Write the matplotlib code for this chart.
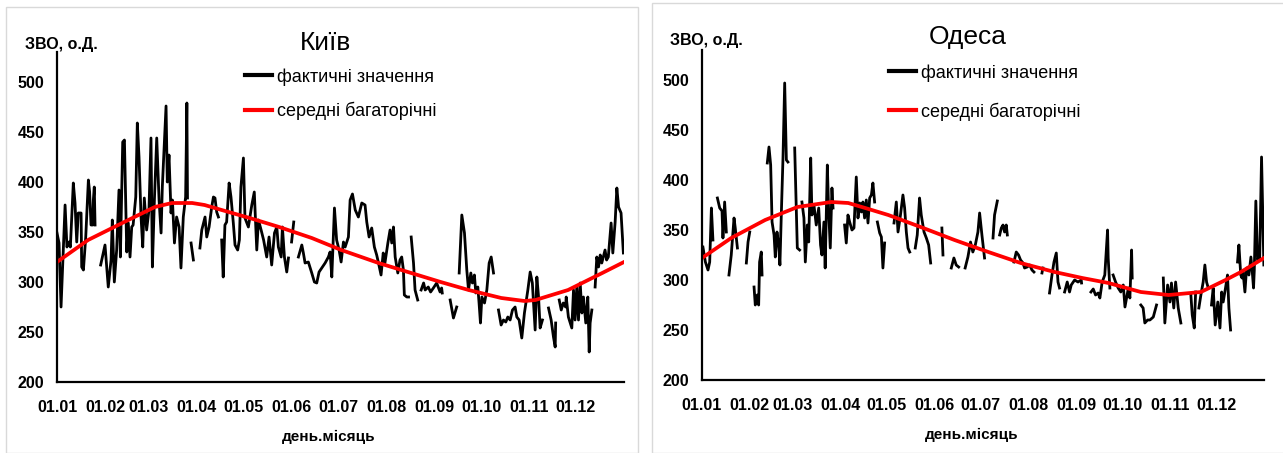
import numpy as np
import matplotlib.pyplot as plt
from matplotlib.patches import Rectangle

# month start positions (day of year) and their labels
month_days = [0, 31, 59, 90, 120, 151, 181, 212, 243, 273, 304, 334]
month_labels = ["01.01", "01.02", "01.03", "01.04", "01.05", "01.06",
                "01.07", "01.08", "01.09", "01.10", "01.11", "01.12"]
yticks = [200, 250, 300, 350, 400, 450, 500]

# Kyiv, actual daily values (None = missing data, breaks the line)
kyiv_days = [0, 1.3, 2.6, 5.2, 6.4, 7.7, 8.6, 10.5, 11.6, 12.7, 13.7, 15.5, 15.9, 17, 18.5, 20.2, 21, 21.9, 23, 23.4, 24, 24.5, None,
             28.1, 30.9, 33, 34.8, 35.6, 36.9, 38.4, 39.9, 40.8, 42.3, 43.4, 44.9, 45.9, 47, 48.1, 49, 50.7, 51.7, 52.8, 54.1, 55.2,
             56.2, 57.7, 59.2, 60.5, 61.4, 62.7, 64.2, 65.7, 67, 67.8, 70.2, 71, 72.1, 73.4, 74.3, 75.6, 77, 78.6, 79.8, 81.3, 82.8,
             83.6, 84, None,
             86.3, 87.8, None,
             92, 93.2, 95.3, 96.4, 97.9, 99.6, 100.7, 101.7, 102.8, 103.9, None,
             106, 107, 108.1, 109.2, 110.8, 112, 113.5, 114.6, 116.3, 117.4, 118.4, 120, 121, 123.2, 125.4, 127, 128.6, 129.7, 131.4,
             133, 135, 136.5, 138.2, 140, 141.5, 142.5, 144.3, 145.1, 146.4, 147.9, 149, None,
             151, 152.4, None,
             155.4, 157.6, 158.6, 159.7, 161.8, 164, 165.7, 167.2, 168.7, 170.4, 172.6, 174.7, 175.8, 176.9, 178.6, 180, 181.6, 182.9,
             184.4, 185.5, 187.6, 188.7, 190.2, 192, 194, 196.2, 198.3, 199.4, 200.9, 202.6, 204.3, 205.8, 207.1, 208.6, 210, 211.1,
             213, 214.4, 215.5, 216.6, 217.7, 219.4, 220.8, 221.9, 223, 223.6, 225.2, 226.3, None,
             228, 229.5, 230.5, 232.2, None,
             234.4, 236, 237, 239, 240.5, 242.3, 244.4, 246.6, 247.6, 248, None,
             253.1, 255.2, 257.3, None,
             258.9, 260.6, 262.3, 263.8, 264.9, 266.4, 267.4, 268.7, 269.6, 270.9, 271.7, 272.6, 273.5, 275.2, 276.7, 278.2, 279.5, 281, None,
             284.2, 285.9, 287.4, 288.9, 290.2, 291.7, 293.2, 294.9, 296, 297.5, 299.2, 300.9, 303.1, 304.6, 306, 307.8, 308.9, 310, 311, 312.5, None,
             316.4, 318.1, 319.6, 320.7, 321, None,
             323.3, 324.6, 325.9, 327.4, 327.8, 329.2, 331.4, 332.5, 333.5, 334.6, 335.7, 336.8, 337.9, 338.9, 340.4, 341.7, 342.6, 343.2, 344.3, None,
             346.4, 347.5, 348.6, 349.7, 350.7, 351.7, 352.8, 353.8, 354.9, 356.7, 357.8, 359.3, 360.4, 361.5, 363.1, 364.6]
kyiv_vals = [349, 339, 275, 377, 335, 340, 335, 399, 379, 340, 369, 369, 315, 312, 345, 402, 390, 357, 357, 382, 395, 357, None,
             317, 337, 295, 322, 362, 300, 332, 392, 325, 440, 442, 330, 359, 325, 355, 357, 385, 459, 425, 365, 335,
             384, 352, 372, 444, 315, 382, 444, 382, 349, 395, 476, 400, 427, 369, 382, 339, 365, 355, 314, 365, 385,
             479, 384, None,
             339, 322, None,
             334, 352, 365, 345, 355, 375, 385, 384, 370, 365, None,
             342, 305, 357, 360, 399, 385, 359, 337, 332, 342, 395, 424, 364, 355, 377, 390, 332, 362, 352,
             342, 325, 345, 317, 349, 355, 335, 325, 355, 325, 310, 324, None,
             340, 360, None,
             325, 337, 329, 319, 320, 309, 300, 299, 310, 314, 319, 325, 330, 305, 374, 342, 332, 320,
             340, 335, 345, 382, 388, 372, 365, 379, 377, 360, 345, 354, 335, 327, 318, 307, 329, 319,
             339, 352, 339, 355, 325, 309, 322, 325, 312, 287, 285, 285, None,
             345, 319, 292, 282, None,
             292, 299, 292, 295, 290, 294, 299, 290, 294, 289, None,
             282, 264, 275, None,
             309, 367, 349, 312, 292, 309, 299, 307, 289, 295, 279, 259, 285, 279, 292, 319, 325, 309, None,
             272, 257, 262, 260, 265, 262, 272, 275, 265, 262, 244, 269, 292, 310, 299, 252, 305, 285, 254, 262, None,
             274, 262, 245, 235, 259, None,
             282, 272, 279, 275, 285, 265, 254, 292, 262, 295, 262, 299, 269, 285, 259, 285, 230, 259, 272, None,
             295, 325, 315, 327, 319, 325, 332, 322, 325, 359, 329, 360, 394, 375, 369, 329]

# Kyiv, long-term mean
kyiv_mean_days = [0, 20, 42, 63, 74, 87, 95, 106, 124, 143, 164, 183, 207, 228, 247, 265, 286, 301, 308, 329, 351, 365]
kyiv_mean_vals = [320, 342, 359, 375, 379, 379, 377, 372, 364, 355, 344, 332, 319, 309, 300, 292, 284, 281, 282, 292, 309, 320]

# Odesa, actual daily values
odesa_days = [0.6, 2.2, 3.9, 5, 6.1, 7.1, None,
              10, 11.5, 13, 13.6, 14.7, 15.8, None,
              17.5, 19, 20.8, 21.6, 23, None,
              28.8, 29.9, 31, None,
              33.8, 34.6, 35.9, 36.8, 37.4, 38.5, 39, None,
              42.4, 43.5, 44.6, 45.5, 46.8, 47.6, 48.7, 49.8, 50.6, 51.5, 52.6, 53.7, 54.8, 55.8, None,
              60.2, 61.3, 61.9, 63.4, None,
              64.9, 66.2, 67.1, 68.4, 69.3, 70.6, 71.4, 72.7, 74.2, 75.8, 77, 77.9, 79.2, 80, 81.4, 82.2, 83.3, 84.4, 85.1, None,
              92.6, 93.7, 94.8, 95.9, 97.4, 98.7, 100.2, 101.3, 102.4, 103.5, 104.5, 105.6, 106.7, 107.8, 108.9, 110, 111, 112.1, None,
              113.9, 115.4, 116.5, 117.5, 118.6, None,
              124.7, 126.2, 127.3, 128.9, 130.5, 131.6, 132.7, 133.8, 134.9, None,
              138.5, 139.8, 141.3, 142.4, 144.2, 145.7, 147.2, 148.5, None,
              155.8, 156.5, None,
              161.9, 163.6, 165.1, 166.7, None,
              170.9, 172.7, 174.4, 175.9, 177.5, 179.2, 180.3, 181.8, 183.5, None,
              189, 190, 191.8, None,
              193.3, 194.4, 195.5, 196.5, 197.6, 198.3, None,
              202.6, 204.1, 205.6, 206.9, 208.5, 209.5, 211.2, 212.8, 214.3, 215.6, None,
              220.8, 221.4, None,
              225.7, 227.3, 228.6, 230.1, 231.2, 232.2, None,
              235.5, 237.2, 238.7, 239.8, 242, 244.2, 246.3, 246.5, None,
              252.6, 254.1, 255.6, 257.3, 258.4, 259.9, 261.6, 263.4, 263.8, 264.9, None,
              267, 268.6, 270.3, 272, 273.6, 274.7, 276.9, 277.9, 279, 279.4, None,
              285, 286.5, 287.6, 289.4, 290.9, 293.1, 295.2, None,
              299.6, 300.6, 302.4, 303.9, 304.9, 306.4, 307.6, 309.3, 311, None,
              317.5, 318.4, 319.7, 320.6, None,
              322.7, 324, 325.5, 326.6, 327.7, 328.8, None,
              330.9, 332, 333.3, 335, 336.4, 337.5, 338.5, 340, 341.3, 342.2, 343.3, None,
              347.8, 348.7, 349.9, 350.7, 351.4, 352.6, 353.7, 355.2, 356.5, 357.4, 358.2, 358.7, 359.7, 360.8, 362.2, 363.4, 364.9]
odesa_vals = [333, 318, 310, 318, 372, 340, None,
              382, 372, 369, 342, 378, 348, None,
              305, 325, 362, 352, 332, None,
              317, 338, 348, None,
              293, 275, 285, 275, 318, 328, 305, None,
              417, 433, 415, 358, 345, 323, 348, 335, 315, 365, 422, 497, 420, 418, None,
              432, 365, 332, 330, None,
              378, 362, 318, 355, 338, 422, 365, 375, 355, 372, 335, 325, 358, 312, 415, 372, 332, 392, 372, None,
              355, 337, 365, 358, 350, 352, 403, 362, 377, 368, 378, 362, 380, 357, 382, 385, 397, 378, None,
              358, 347, 343, 312, 337, None,
              357, 378, 348, 365, 385, 372, 348, 332, 328, None,
              332, 345, 382, 365, 348, 342, 335, 317, None,
              352, 325, None,
              312, 322, 315, 313, None,
              312, 323, 338, 328, 335, 348, 367, 345, 322, None,
              342, 365, 379, None,
              345, 352, 355, 348, 355, 345, None,
              318, 328, 325, 320, 317, 312, 313, 315, 310, 308, None,
              307, 312, None,
              287, 305, 318, 327, 298, 292, None,
              288, 298, 288, 295, 300, 298, 300, 297, None,
              288, 291, 285, 287, 282, 298, 305, 350, 322, 292, None,
              305, 298, 292, 288, 295, 273, 292, 282, 330, 302, None,
              275, 272, 257, 260, 260, 263, 275, None,
              302, 257, 295, 278, 297, 272, 298, 272, 257, None,
              285, 265, 252, 288, None,
              272, 285, 298, 315, 298, 292, None,
              275, 292, 255, 278, 252, 288, 278, 292, 305, 272, 250, None,
              318, 335, 305, 302, 308, 288, 312, 305, 323, 308, 292, 310, 379, 320, 322, 423, 315]

# Odesa, long-term mean
odesa_mean_days = [0, 19, 41, 62, 84, 95, 106, 121, 142, 164, 186, 207, 229, 247, 264, 285, 303, 324, 340, 350, 365]
odesa_mean_vals = [322, 342, 360, 373, 378, 377, 372, 365, 353, 340, 328, 317, 308, 302, 297, 288, 285, 288, 300, 308, 322]

W, H = 1283, 453
FONT = ["Liberation Sans", "DejaVu Sans"]


def arr(lst):
    return np.array([np.nan if v is None else v for v in lst], dtype=float)


def fx(px):
    return px / W


def fy(py):
    return 1 - py / H


def panel(rect, title, days, vals, mdays, mvals, title_pos, leg_pos, leg_space, ylab_pos, xlab_pos):
    ax = fig.add_axes(rect)
    ax.plot(arr(days), arr(vals), color="black", lw=2.0, solid_joinstyle="round")
    ax.plot(mdays, mvals, color="#ff0000", lw=2.7, solid_joinstyle="round")
    ax.set_xlim(0, 365)
    ax.set_ylim(200, 530)
    ax.set_xticks(month_days)
    ax.set_xticklabels(month_labels)
    ax.set_yticks(yticks)
    for s in ("top", "right"):
        ax.spines[s].set_visible(False)
    for s in ("left", "bottom"):
        ax.spines[s].set_linewidth(1.6)
    ax.tick_params(length=0)
    ax.tick_params(axis="y", pad=9)
    ax.tick_params(axis="x", pad=13)
    for t in ax.get_xticklabels() + ax.get_yticklabels():
        t.set_family(FONT)
        t.set_fontweight("bold")
        t.set_fontsize(11.5)
    fig.text(fx(title_pos[0]), fy(title_pos[1]), title, family=FONT, fontsize=19,
             ha="center", va="center")
    fig.text(fx(ylab_pos[0]), fy(ylab_pos[1]), "ЗВО, о.Д.", family=FONT, fontsize=11.5,
             fontweight="bold", ha="center", va="center")
    fig.text(fx(xlab_pos[0]), fy(xlab_pos[1]), "день.місяць", family=FONT, fontsize=11,
             fontweight="bold", ha="center", va="center")
    h1 = plt.Line2D([], [], color="black", lw=3)
    h2 = plt.Line2D([], [], color="#ff0000", lw=3)
    fig.legend([h1, h2], ["фактичні значення", "середні багаторічні"],
               loc="upper left", bbox_to_anchor=(fx(leg_pos[0]), fy(leg_pos[1])),
               frameon=False, prop={"family": FONT, "size": 13},
               handlelength=1.5, handletextpad=0.28, labelspacing=leg_space,
               borderpad=0, borderaxespad=0)
    return ax


fig = plt.figure(figsize=(W / 100, H / 100), dpi=100)

# light panel frames
fig.patches.append(Rectangle((fx(6), 0), fx(632), fy(7), transform=fig.transFigure,
                             fill=False, edgecolor="#d9d9d9", lw=1))
fig.patches.append(Rectangle((fx(652), 0), fx(640), fy(3), transform=fig.transFigure,
                             fill=False, edgecolor="#d9d9d9", lw=1))

panel([fx(57), fy(382), fx(567), 330 / H], "Київ", kyiv_days, kyiv_vals,
      kyiv_mean_days, kyiv_mean_vals, (325, 43), (245, 68), 0.92, (61, 45), (329, 437))
panel([fx(702), fy(380), fx(562), 330 / H], "Одеса", odesa_days, odesa_vals,
      odesa_mean_days, odesa_mean_vals, (968, 37), (889, 64), 1.15, (706, 40), (972, 435))

fig.savefig("out.png", dpi=100)
